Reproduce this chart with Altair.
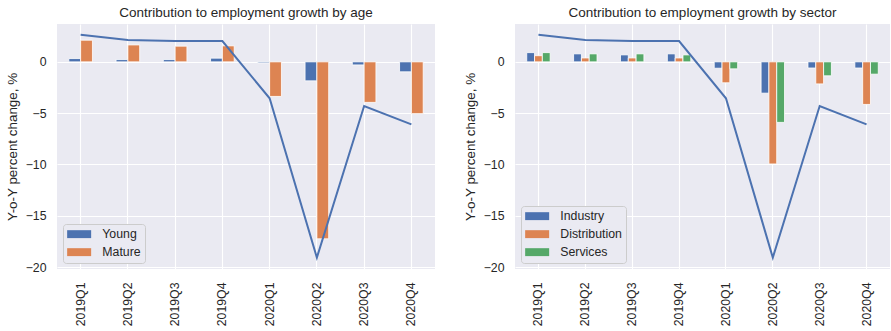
import altair as alt
import pandas as pd

quarters = ["2019Q1", "2019Q2", "2019Q3", "2019Q4", "2020Q1", "2020Q2", "2020Q3", "2020Q4"]
total_growth = [2.64, 2.12, 2.03, 2.03, -3.55, -19.08, -4.3, -6.1]

age_groups = ["Young", "Mature"]
young = [0.32, 0.22, 0.22, 0.36, -0.1, -1.85, -0.3, -0.97]
mature = [2.11, 1.65, 1.53, 1.56, -3.37, -17.25, -3.95, -5.05]

sector_groups = ["Industry", "Distribution", "Services"]
industry = [0.9, 0.78, 0.68, 0.78, -0.62, -3.05, -0.6, -0.6]
distribution = [0.6, 0.38, 0.38, 0.38, -2.04, -9.95, -2.15, -4.15]
services = [0.9, 0.78, 0.78, 0.68, -0.68, -5.9, -1.36, -1.2]

FONT = "Liberation Sans"
TEXT = "#262626"
BG = "#EAEAF2"
COLORS = ["#4C72B0", "#DD8452", "#55A868"]


def panel(title, names, series, width):
    rows = []
    for name, vals in zip(names, series):
        for q, v in zip(quarters, vals):
            rows.append({"quarter": q, "group": name, "value": v})
    bars_df = pd.DataFrame(rows)
    line_df = pd.DataFrame({"quarter": quarters, "value": total_growth})

    n = len(names)
    # pandas-style grouped bars: the group spans the central half of each band
    k = (n - 1) // 2
    offset_domain = ["_l%d" % i for i in range(k)] + names + ["_r%d" % i for i in range(k)]
    offset_pad = (n - 2 * k) / 2

    x_axis = alt.Axis(title=None, labelAngle=-90, grid=True, bandPosition=0.5,
                      labelPadding=13)
    y_axis = alt.Axis(title="Y-o-Y percent change, %", values=[-20, -15, -10, -5, 0],
                      labelPadding=11, titlePadding=6)
    x_scale = alt.Scale(paddingInner=0, paddingOuter=0)
    y_scale = alt.Scale(domain=[-20.19, 3.69], nice=False)

    bars = alt.Chart(bars_df).mark_bar(stroke="white", strokeWidth=0.8).encode(
        x=alt.X("quarter:N", sort=quarters, scale=x_scale, axis=x_axis),
        xOffset=alt.XOffset("group:N",
                            scale=alt.Scale(domain=offset_domain, paddingInner=0,
                                            paddingOuter=offset_pad)),
        y=alt.Y("value:Q", scale=y_scale, axis=y_axis),
        color=alt.Color("group:N", sort=names,
                        scale=alt.Scale(domain=names, range=COLORS[:n]),
                        legend=alt.Legend(title=None, orient="bottom-left", offset=6,
                                          padding=4, fillColor=BG, strokeColor="#CCCCCC",
                                          cornerRadius=3,
                                          symbolType="M-2,-0.66H2V0.66H-2Z",
                                          symbolSize=144, symbolStrokeWidth=0,
                                          symbolOpacity=1, symbolOffset=6,
                                          labelOffset=17, rowPadding=5,
                                          labelFont=FONT, labelFontSize=12.3,
                                          labelColor=TEXT)),
    )
    line = alt.Chart(line_df).mark_line(color="#4C72B0", strokeWidth=2).encode(
        x=alt.X("quarter:N", sort=quarters, scale=x_scale, axis=x_axis),
        y=alt.Y("value:Q", scale=y_scale, axis=y_axis),
    )
    return alt.layer(bars, line).properties(
        width=width, height=245,
        title=alt.TitleParams(title, font=FONT, fontSize=13.5, fontWeight="normal",
                              color=TEXT, offset=5),
    )


left = panel("Contribution to employment growth by age", age_groups,
             [young, mature], 378)
right = panel("Contribution to employment growth by sector", sector_groups,
              [industry, distribution, services], 375)

chart = alt.hconcat(left, right, spacing=28).resolve_scale(
    color="independent", x="independent", y="independent", xOffset="independent"
).resolve_legend(color="independent").properties(
    padding={"left": 5, "top": 5, "right": 0, "bottom": 4},
    background="white",
).configure_view(fill=BG, strokeWidth=0).configure_axis(
    domain=False, ticks=False, tickSize=0, gridColor="white", gridWidth=1.1,
    labelFont=FONT, labelFontSize=12.3, labelColor=TEXT,
    titleFont=FONT, titleFontSize=13.4, titleFontWeight="normal", titleColor=TEXT,
)

chart.save("out.html", embed_options={"renderer": "svg", "actions": False})
